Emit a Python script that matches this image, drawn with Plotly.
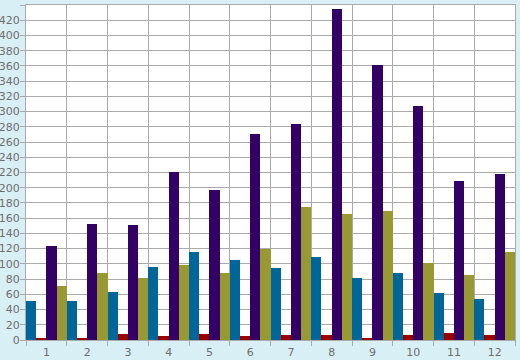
import plotly.graph_objects as go

categories = ["1", "2", "3", "4", "5", "6", "7", "8", "9", "10", "11", "12"]
blue_vals = [51, 51, 63, 96, 115, 105, 95, 109, 81, 88, 62, 54]
red_vals = [3, 3, 8, 5, 8, 5, 7, 6, 2, 6, 9, 6]
purple_vals = [124, 153, 151, 221, 197, 270, 284, 435, 361, 308, 209, 218]
olive_vals = [71, 88, 82, 99, 88, 119, 175, 166, 170, 101, 86, 115]

series = [
    ("Blue", blue_vals, "#006699"),
    ("Red", red_vals, "#990000"),
    ("Purple", purple_vals, "#330066"),
    ("Olive", olive_vals, "#999933"),
]

fig = go.Figure()
for name, vals, color in series:
    fig.add_trace(go.Bar(x=categories, y=vals, name=name,
                         marker=dict(color=color, line=dict(width=0))))

grid = "#aaaaaa"
fig.update_layout(
    width=520, height=360,
    barmode="group", bargap=0, bargroupgap=0,
    paper_bgcolor="#d9eff6", plot_bgcolor="#ffffff",
    margin=dict(l=26, r=5, t=5, b=20, autoexpand=False),
    showlegend=False,
    font=dict(family="DejaVu Sans", size=11, color="#6e6e6e"),
    xaxis=dict(type="category", tickson="boundaries", showgrid=True,
               gridcolor=grid, gridwidth=1, ticks="outside", ticklen=5,
               tickcolor=grid, showline=True, linecolor=grid, mirror=True,
               zeroline=False, automargin=False, ticklabelstandoff=2),
    yaxis=dict(range=[0, 440], dtick=20, showgrid=True, gridcolor=grid,
               gridwidth=1, ticks="outside", ticklen=5, tickcolor=grid,
               showline=True, linecolor=grid, mirror=True, zeroline=False,
               automargin=False, ticklabelstandoff=-2),
)

fig.write_html("out.html",
               config={"displayModeBar": False},
               post_script="document.body.style.margin='0';document.body.style.overflow='hidden';")
